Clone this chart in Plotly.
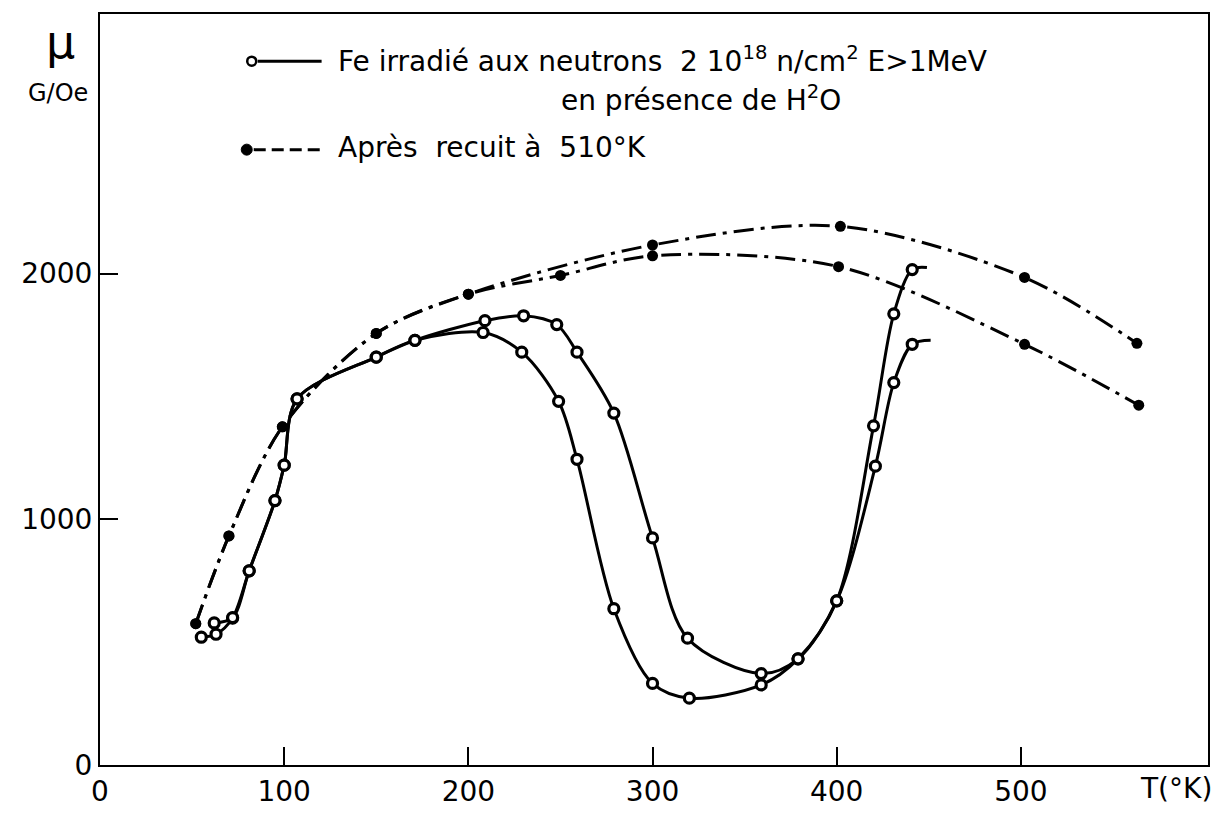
import plotly.graph_objects as go

# ---- data (T in K, mu in G/Oe) ----
# solid curve, first sample of irradiated Fe (last point = end of drawn line)
T_irr_a = [55, 63, 72, 81, 95, 100, 107, 150, 171, 208, 229, 249, 259, 279, 300, 320, 359, 379, 400, 420, 431, 441, 449]
mu_irr_a = [520, 532, 598, 790, 1076, 1220, 1490, 1660, 1728, 1760, 1680, 1480, 1244, 636, 332, 272, 326, 432, 668, 1380, 1836, 2016, 2024]
# solid curve, second sample of irradiated Fe
T_irr_b = [62, 72, 81, 95, 100, 107, 150, 171, 209, 230, 248, 259, 279, 300, 319, 359, 379, 400, 421, 431, 441, 451]
mu_irr_b = [578, 600, 790, 1076, 1220, 1490, 1660, 1728, 1808, 1828, 1792, 1680, 1432, 924, 516, 372, 432, 668, 1216, 1556, 1712, 1728]
# dash-dot curves, after annealing at 510 K
T_ann_a = [52, 70, 99, 150, 200, 300, 402, 502, 563]
mu_ann_a = [575, 932, 1376, 1756, 1916, 2116, 2192, 1984, 1716]
T_ann_b = [52, 70, 99, 150, 200, 250, 300, 401, 502, 564]
mu_ann_b = [575, 932, 1376, 1756, 1916, 1992, 2072, 2028, 1712, 1464]

x_ticks = [0, 100, 200, 300, 400, 500]
y_ticks = [0, 1000, 2000]

FONT = "DejaVu Sans"
fig = go.Figure()

# solid curves
for T, mu in [(T_irr_a, mu_irr_a), (T_irr_b, mu_irr_b)]:
    fig.add_trace(go.Scatter(x=T, y=mu, mode="lines",
                             line=dict(color="black", width=3, shape="spline", smoothing=0.9),
                             showlegend=False, hoverinfo="skip"))
    fig.add_trace(go.Scatter(x=T[:-1], y=mu[:-1], mode="markers",
                             marker=dict(symbol="circle", size=10, color="white",
                                         line=dict(color="black", width=3.2)),
                             showlegend=False))
# dash-dot curves
for T, mu in [(T_ann_a, mu_ann_a), (T_ann_b, mu_ann_b)]:
    fig.add_trace(go.Scatter(x=T, y=mu, mode="lines+markers",
                             line=dict(color="black", width=3, shape="spline", smoothing=0.9,
                                       dash="20px,7px,4px,7px"),
                             marker=dict(symbol="circle", size=11, color="black"),
                             showlegend=False))

L, R, TOP, B = 100, 12, 12, 44
PW, PH = 1222 - L - R, 820 - TOP - B
def px(x):
    return (x - L) / PW
def py(y):
    return (820 - B - y) / PH

shapes = []
# legend sample 1: open circle + solid line
shapes.append(dict(type="line", xref="paper", yref="paper", x0=px(258), x1=px(322),
                   y0=py(60), y1=py(60), line=dict(color="black", width=3)))
shapes.append(dict(type="circle", xref="paper", yref="paper", xsizemode="pixel", ysizemode="pixel",
                   xanchor=px(252), yanchor=py(60), x0=-4.5, x1=4.5, y0=-4.5, y1=4.5,
                   fillcolor="white", line=dict(color="black", width=2.5)))
# legend sample 2: filled dot + dashed line
shapes.append(dict(type="line", xref="paper", yref="paper", x0=px(254), x1=px(322),
                   y0=py(150), y1=py(150), line=dict(color="black", width=3, dash="12px,6px")))
shapes.append(dict(type="circle", xref="paper", yref="paper", xsizemode="pixel", ysizemode="pixel",
                   xanchor=px(247), yanchor=py(150), x0=-5.5, x1=5.5, y0=-5.5, y1=5.5,
                   fillcolor="black", line=dict(color="black", width=1)))

annotations = [
    dict(text="Fe irradié aux neutrons  2 10<sup>18</sup> n/cm<sup>2</sup> E>1MeV",
         x=px(336), y=py(58), xanchor="left", yanchor="middle"),
    dict(text="en présence de H<sup>2</sup>O", x=px(560), y=py(98), xanchor="left", yanchor="middle"),
    dict(text="Après  recuit à  510°K", x=px(336), y=py(148), xanchor="left", yanchor="middle"),
    dict(text="μ", x=px(60), y=py(40), xanchor="center", yanchor="middle", font=dict(size=46)),
    dict(text="G/Oe", x=px(58), y=py(92), xanchor="center", yanchor="middle", font=dict(size=24)),
    dict(text="T(°K)", x=px(1178), y=py(800), xanchor="center", yanchor="middle", font=dict(size=28)),
]
for a in annotations:
    a.update(xref="paper", yref="paper", showarrow=False)
    a.setdefault("font", dict(size=28))
    a["font"] = dict(family=FONT, color="black", **a["font"])

fig.update_layout(
    width=1222, height=820,
    margin=dict(l=L, r=R, t=TOP, b=B, pad=0),
    paper_bgcolor="white", plot_bgcolor="white",
    font=dict(family=FONT, size=28, color="black"),
    shapes=shapes, annotations=annotations, showlegend=False,
    xaxis=dict(range=[0, 601.6], showgrid=False, zeroline=False, showline=True, mirror=True,
               linecolor="black", linewidth=2, ticks="inside", ticklen=18, tickwidth=2,
               tickcolor="black", tickvals=x_ticks, ticktext=[str(v) for v in x_ticks]),
    yaxis=dict(range=[0, 3056], showgrid=False, zeroline=False, showline=True, mirror=True,
               linecolor="black", linewidth=2, ticks="inside", ticklen=18, tickwidth=2,
               tickcolor="black", tickvals=y_ticks, ticktext=[str(v) for v in y_ticks]),
)

fig.write_html("out.html")
